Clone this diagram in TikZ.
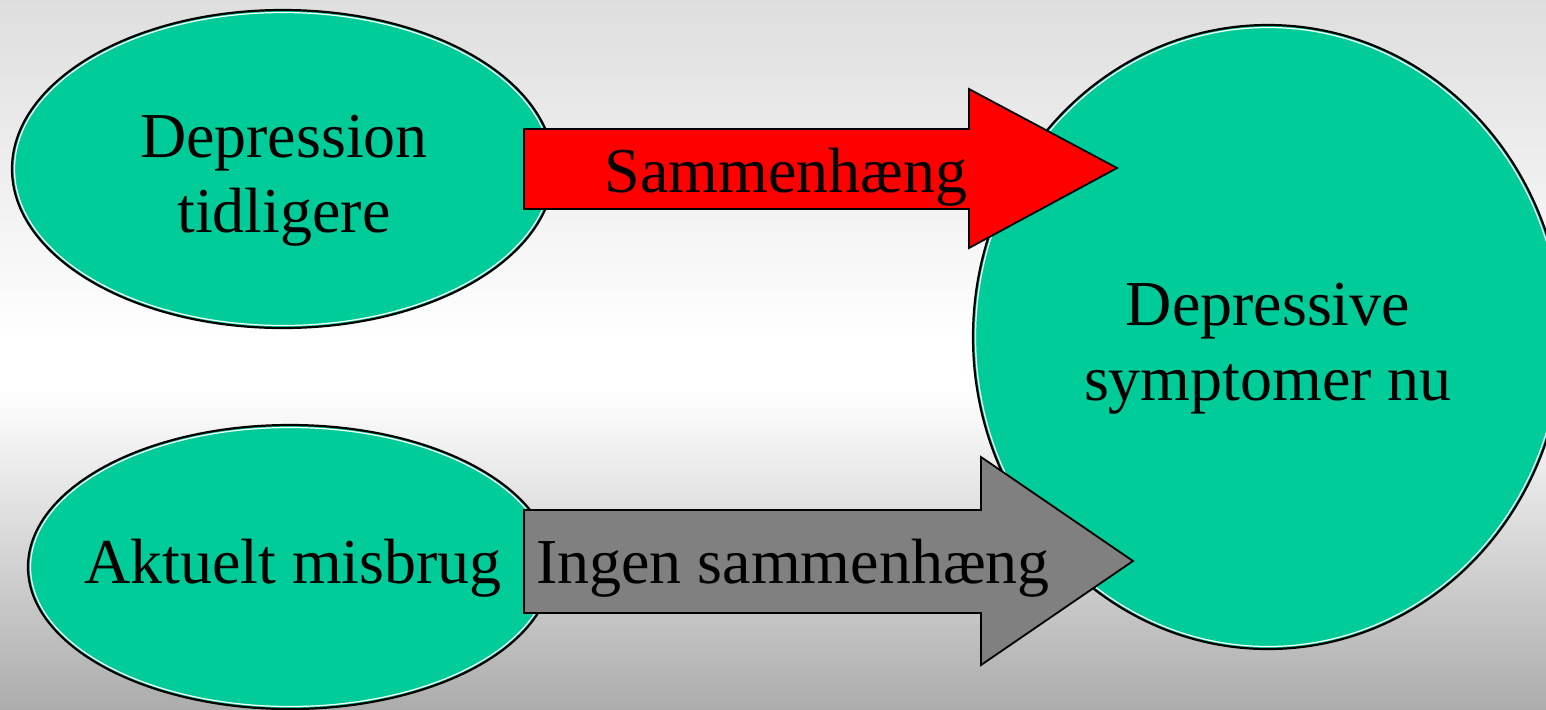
\documentclass[tikz,border=0pt]{standalone}
\usepackage{fontspec}
\setmainfont{Liberation Serif}
\usetikzlibrary{shapes.geometric,calc}
\definecolor{nodegreen}{RGB}{0,204,153}
\definecolor{bgtop}{RGB}{222,222,222}
\definecolor{bgbottom}{RGB}{172,172,172}
\tikzset{
  bubble/.style={ellipse, fill=nodegreen, draw=black, line width=1.1pt, inner sep=0pt},
  innerrim/.style={draw=white, line width=0.6pt},
  bigarrow/.style={draw=black, line width=0.9pt},
  label text/.style={font=\fontsize{32}{37.5}\selectfont, inner sep=0pt, align=center}
}
\begin{document}
\begin{tikzpicture}[x=0.5pt, y=-0.5pt]
  \useasboundingbox (0,0) rectangle (1546,709);
  \clip (0,0) rectangle (1546,709);
  % background: light grey at the top, white in the middle, darker grey below
  \shade[top color=bgtop, bottom color=white] (0,0) rectangle (1546,340);
  \fill[white] (0,339) rectangle (1546,391);
  \shade[top color=white, bottom color=bgbottom] (0,390) rectangle (1546,710);

  % ellipses
  \node[bubble, minimum width=295pt, minimum height=312pt] (now) at (1268,337) {};
  \draw[innerrim] (now.center) ellipse [x radius=292.5, y radius=309.5];

  \node[bubble, minimum width=271pt, minimum height=159pt] (earlier) at (283,169) {};
  \draw[innerrim] (earlier.center) ellipse [x radius=268.5, y radius=156.5];

  \node[bubble, minimum width=262pt, minimum height=142pt] (abuse) at (290,567) {};
  \draw[innerrim] (abuse.center) ellipse [x radius=259.5, y radius=139.5];

  % ellipse texts (base anchor sits on the last line)
  \node[label text, anchor=base] (nowtext) at (1268,400) {Depressive\\symptomer nu};
  \node[label text, anchor=base] (earliertext) at (284,232) {Depression\\tidligere};
  \node[label text, anchor=base] (abusetext) at (293,583) {Aktuelt misbrug};

  % block arrows
  \coordinate (redtail) at (524,168);
  \coordinate (redtip) at (1117,168);
  \draw[bigarrow, fill=red]
    ($(redtail)+(0,-39)$) -- (969,129) -- (969,89) -- (redtip) -- (969,248)
    -- (969,209) -- ($(redtail)+(0,41)$) -- cycle;
  \node[label text, anchor=base] (lbl1) at (786,192) {Sammenhæng};

  \coordinate (graytail) at (524,561);
  \coordinate (graytip) at (1133,561);
  \draw[bigarrow, fill=gray]
    ($(graytail)+(0,-51)$) -- (981,510) -- (981,457) -- (graytip) -- (981,665)
    -- (981,613) -- ($(graytail)+(0,52)$) -- cycle;
  \node[label text, anchor=base] (lbl2) at (793,583) {Ingen sammenhæng};
\end{tikzpicture}
\end{document}
